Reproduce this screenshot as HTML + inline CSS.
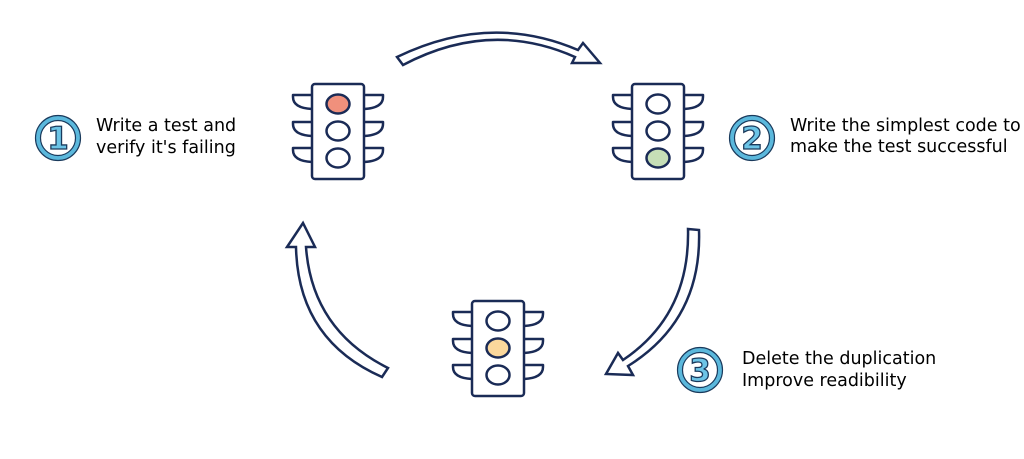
<!DOCTYPE html>
<html><head><style>body{margin:0;background:#fff}svg{display:block}</style></head><body>
<svg width="1024" height="459" viewBox="0 0 1024 459" xmlns="http://www.w3.org/2000/svg">
<defs>
<g id="tl" fill="none" stroke="#1a2b56" stroke-width="2.5" stroke-linejoin="round">
  <rect x="-26" y="0" width="52" height="95" rx="3" fill="#fff"/>
  <path d="M-26,11 H-45 V13 Q-45,24 -26,25"/>
  <path d="M-26,38 H-45 V40 Q-45,51 -26,52"/>
  <path d="M-26,64 H-45 V66 Q-45,77 -26,78"/>
  <path d="M26,11 H45 V13 Q45,24 26,25"/>
  <path d="M26,38 H45 V40 Q45,51 26,52"/>
  <path d="M26,64 H45 V66 Q45,77 26,78"/>
</g>
<g id="badge">
  <circle r="20" fill="#fff" stroke="#5bb8dc" stroke-width="5"/>
  <circle r="22.5" fill="none" stroke="#1a3a5c" stroke-width="1.2"/>
  <circle r="17.5" fill="none" stroke="#1a3a5c" stroke-width="1.2"/>
</g>
</defs>

<g transform="translate(338,84)"><use href="#tl"/>
  <ellipse cx="0" cy="20" rx="11.5" ry="9.5" fill="#f0907c" stroke="#1a2b56" stroke-width="2.5"/>
  <ellipse cx="0" cy="47" rx="11.5" ry="9.5" fill="#fff" stroke="#1a2b56" stroke-width="2.5"/>
  <ellipse cx="0" cy="74" rx="11.5" ry="9.5" fill="#fff" stroke="#1a2b56" stroke-width="2.5"/>
</g>
<g transform="translate(658,84)"><use href="#tl"/>
  <ellipse cx="0" cy="20" rx="11.5" ry="9.5" fill="#fff" stroke="#1a2b56" stroke-width="2.5"/>
  <ellipse cx="0" cy="47" rx="11.5" ry="9.5" fill="#fff" stroke="#1a2b56" stroke-width="2.5"/>
  <ellipse cx="0" cy="74" rx="11.5" ry="9.5" fill="#c6dfb7" stroke="#1a2b56" stroke-width="2.5"/>
</g>
<g transform="translate(498,301)"><use href="#tl"/>
  <ellipse cx="0" cy="20" rx="11.5" ry="9.5" fill="#fff" stroke="#1a2b56" stroke-width="2.5"/>
  <ellipse cx="0" cy="47" rx="11.5" ry="9.5" fill="#fbd89c" stroke="#1a2b56" stroke-width="2.5"/>
  <ellipse cx="0" cy="74" rx="11.5" ry="9.5" fill="#fff" stroke="#1a2b56" stroke-width="2.5"/>
</g>

<g fill="#fff" stroke="#1a2b56" stroke-width="2.5" stroke-linejoin="miter">
  <path d="M397,57 Q490,12 578,50 L583,43 L600,63 L572,63 L575,57 Q490,19 403,65 Z"/>
  <path d="M688,229 L699,230 Q702,320 628,366 L633,375 L606,374 L618,353 L623,360 Q690,315 688,229 Z"/>
  <path d="M388,368 Q312,330 306,247 L315,247 L303,223 L287,247 L296,247 Q298,340 382,377 Z"/>
</g>

<g font-family="DejaVu Sans, Liberation Sans, sans-serif" font-size="31" font-weight="bold" fill="#6cc4e6" stroke="#1a3a5c" stroke-width="1.3" text-anchor="middle">
  <use href="#badge" transform="translate(58,138)"/>
  <text x="58" y="149">1</text>
  <use href="#badge" transform="translate(752,138)"/>
  <text x="752" y="149">2</text>
  <use href="#badge" transform="translate(700,370)"/>
  <text x="700" y="381">3</text>
</g>

<g font-family="DejaVu Sans, Liberation Sans, sans-serif" font-size="17.5" fill="#000">
  <text x="96" y="131">Write a test and</text>
  <text x="96" y="153">verify it's failing</text>
  <text x="790" y="131">Write the simplest code to</text>
  <text x="790" y="152">make the test successful</text>
  <text x="742" y="364">Delete the duplication</text>
  <text x="742" y="386">Improve readibility</text>
</g>
</svg>
</body></html>
